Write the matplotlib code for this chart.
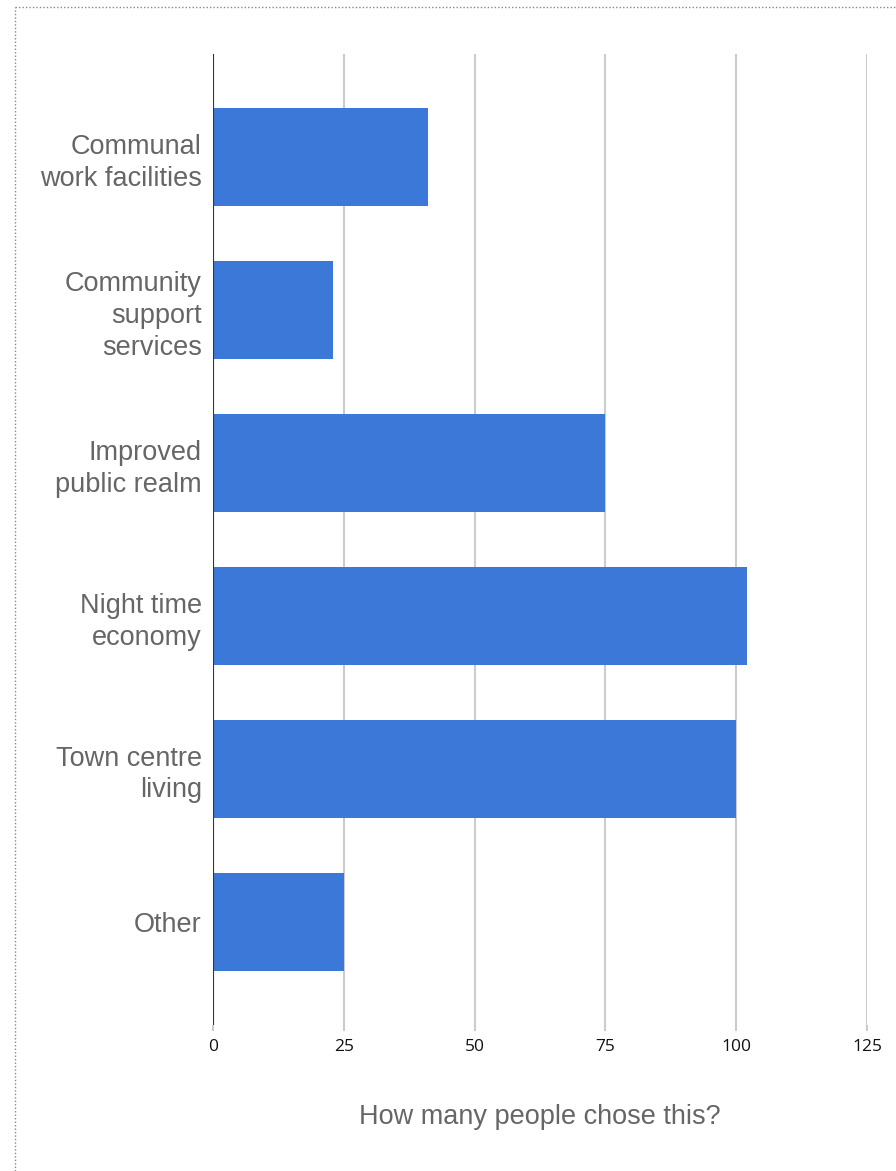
import matplotlib
matplotlib.use("Agg")
import matplotlib.pyplot as plt
from matplotlib.lines import Line2D

categories = ["Communal\nwork facilities", "Community\nsupport\nservices", "Improved\npublic realm",
              "Night time\neconomy", "Town centre\nliving", "Other"]
values = [41, 23, 75, 102, 100, 25]
xticks = [0, 25, 50, 75, 100, 125]
xlabel = "How many people chose this?"

fig = plt.figure(figsize=(8.96, 11.71), dpi=100)
ax = fig.add_axes([213/896, 1 - 1025/1171, (867-213)/896, (1025-54)/1171])

pos = list(range(len(categories)))
ax.barh(pos, values, height=0.64, color="#3c78d8", zorder=3)
ax.set_ylim(len(categories) - 0.325, -0.675)
ax.set_xlim(0, 125)
ax.set_xticks(xticks)
ax.set_xticklabels([str(t) for t in xticks], family="Open Sans", fontsize=12.5, color="#111111")
ax.set_yticks(pos)
ax.set_yticklabels(categories, family="Liberation Sans", fontsize=19.5, color="#666666", linespacing=1.28)
ax.tick_params(axis="y", length=0, pad=8)
ax.tick_params(axis="x", length=4, width=1.5, color="#cccccc", pad=6)
for s in ax.spines.values():
    s.set_visible(False)
ax.grid(axis="x", color="#cccccc", linewidth=1.5, zorder=0)
ax.axvline(0, color="#333333", linewidth=1.5, zorder=4)
ax.set_xlabel(xlabel, family="Liberation Sans", fontsize=19.5, color="#666666", labelpad=35)

# dotted border
fig.add_artist(Line2D([15/896, 1], [1 - 7/1171, 1 - 7/1171], transform=fig.transFigure,
                      color="#888888", linestyle=(0, (1, 1.5)), linewidth=1))
fig.add_artist(Line2D([15/896, 15/896], [0, 1 - 7/1171], transform=fig.transFigure,
                      color="#888888", linestyle=(0, (1, 1.5)), linewidth=1))

fig.savefig("out.png", dpi=100)
